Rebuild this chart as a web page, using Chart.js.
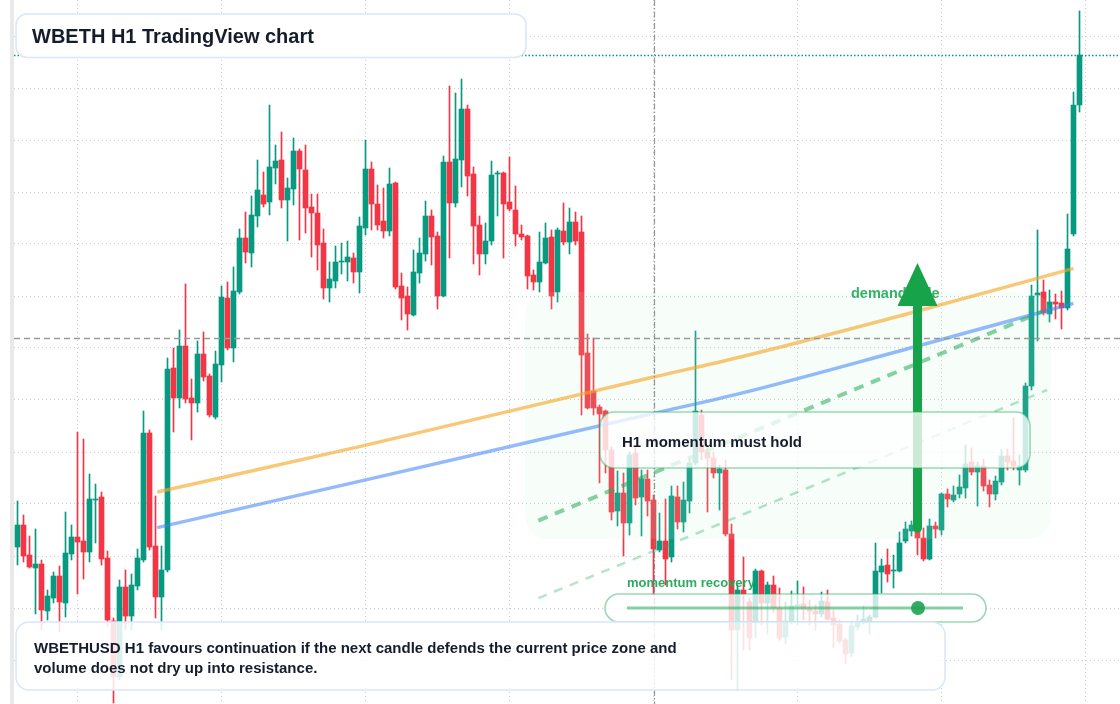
<!DOCTYPE html>
<html>
<head>
<meta charset="utf-8">
<title>WBETH H1 TradingView chart</title>
<script src="https://cdn.jsdelivr.net/npm/chart.js@4/dist/chart.umd.min.js"></script>
<style>
  html, body { margin: 0; padding: 0; background: #ffffff; }
  #wrap { width: 1120px; height: 704px; }
</style>
</head>
<body>
<div id="wrap"><canvas id="chart" width="1120" height="704"></canvas></div>
<script>
// WBETHUSD hourly candles, one value per hour
const open = [
  3126.5, 3137.5, 3122.5, 3116, 3118, 3094.5, 3101, 3112, 3098.5, 3123,
  3131.5, 3129.5, 3124, 3150, 3151.5, 3121, 3089.5, 3061.5, 3106.5, 3092,
  3107, 3120, 3183.5, 3127, 3101.5, 3115, 3216, 3201, 3227, 3201,
  3198.5, 3223, 3212, 3191.5, 3217.5, 3251, 3226, 3254, 3281, 3273.5,
  3292, 3302.5, 3299, 3316, 3320, 3300, 3305.5, 3324.5, 3315, 3296.5,
  3293.5, 3278.5, 3256, 3259.5, 3269, 3269, 3271, 3264, 3286, 3315.5,
  3298, 3289.5, 3284.5, 3308.5, 3257, 3252, 3242.5, 3263.5, 3273, 3292,
  3282, 3252, 3319, 3298.5, 3320, 3345.5, 3313, 3287.5, 3273, 3279.5,
  3313, 3313.5, 3299, 3295, 3283, 3282, 3262.5, 3259, 3268.5, 3281.5,
  3254, 3284.5, 3279, 3289, 3284, 3223.5, 3204.5, 3196.5, 3194.5, 3175,
  3144.5, 3153.5, 3138.5, 3173.5, 3151.5, 3160.5, 3150, 3125, 3129.5, 3121.5,
  3151.5, 3139, 3149.5, 3168.5, 3192.5, 3174, 3171, 3163.5, 3165, 3133,
  3085, 3105, 3099, 3089, 3114.5, 3098.5, 3107.5, 3096, 3081.5, 3089.5,
  3097, 3098, 3095.5, 3094.5, 3093, 3099, 3091, 3088, 3080, 3073.5,
  3086.5, 3089, 3089, 3091.5, 3114, 3117.5, 3114.5, 3114.5, 3129.5, 3134.5,
  3137.5, 3131, 3120.5, 3137, 3135, 3153, 3150, 3153, 3156, 3169,
  3164, 3167, 3157.5, 3153, 3159, 3172, 3169.5, 3165, 3165, 3207,
  3252.5, 3254, 3243, 3249, 3248.5, 3246, 3283, 3347.5
];
const high = [
  3149.5, 3142.5, 3132, 3135.5, 3120, 3105, 3114, 3117, 3144, 3137.5,
  3184, 3180.5, 3163, 3158, 3154, 3124.5, 3091, 3110, 3115, 3113,
  3125.5, 3194.5, 3185, 3152, 3127, 3221, 3226, 3235, 3258, 3210.5,
  3229.5, 3234, 3213, 3224.5, 3257, 3259, 3266.5, 3285.5, 3294, 3302,
  3320, 3314, 3347.5, 3327.5, 3334, 3311, 3331, 3325.5, 3327.5, 3303,
  3303, 3285.5, 3269, 3277, 3278.5, 3279.5, 3273.5, 3291.5, 3330, 3319,
  3307.5, 3306, 3316, 3309, 3263.5, 3256.5, 3275, 3281, 3299.5, 3295,
  3284, 3322, 3357, 3353.5, 3360.5, 3347.5, 3316.5, 3292, 3288.5, 3319.5,
  3314.5, 3314, 3321.5, 3307, 3287.5, 3282.5, 3265, 3284, 3288.5, 3285,
  3286, 3298.5, 3296, 3294, 3292, 3233, 3231, 3197.5, 3195, 3176.5,
  3164.5, 3163.5, 3174, 3177.5, 3165, 3165, 3152.5, 3143.5, 3150.5, 3157,
  3157, 3159, 3171, 3234.5, 3195, 3177.5, 3174, 3167.5, 3170, 3138,
  3107.5, 3121.5, 3101, 3115.5, 3115, 3109, 3112, 3106, 3099, 3104.5,
  3109.5, 3106.5, 3100, 3097.5, 3104, 3105, 3095, 3090, 3081, 3089.5,
  3092.5, 3097, 3092.5, 3128.5, 3120.5, 3125.5, 3122.5, 3134, 3139, 3139.5,
  3140, 3136, 3140.5, 3139, 3153.5, 3155.5, 3157, 3162.5, 3177.5, 3176,
  3169, 3170.5, 3160, 3162, 3175, 3175.5, 3191, 3172.5, 3208.5, 3257.5,
  3285, 3260, 3255, 3253, 3254.5, 3293, 3354, 3394.5
];
const low = [
  3117.5, 3119, 3116, 3093, 3085, 3090, 3098.5, 3084, 3091.5, 3120,
  3103, 3110.5, 3119, 3128.5, 3117.5, 3087, 3048.5, 3060, 3085, 3085,
  3105, 3119, 3125, 3091, 3085, 3114, 3184, 3196, 3198.5, 3180,
  3194, 3209.5, 3191.5, 3190.5, 3209, 3225, 3219, 3253, 3268.5, 3266.5,
  3286.5, 3296.5, 3292.5, 3308, 3296, 3279.5, 3297.5, 3280, 3283.5, 3271.5,
  3265, 3250.5, 3249, 3256, 3263, 3259.5, 3258.5, 3253.5, 3282.5, 3285,
  3285, 3281, 3282, 3255.5, 3240, 3235, 3242, 3258.5, 3269.5, 3267.5,
  3245.5, 3251.5, 3271, 3296.5, 3306.5, 3302, 3268, 3262.5, 3268, 3277.5,
  3292, 3271, 3294.5, 3277, 3280, 3255.5, 3255, 3254, 3268, 3245.5,
  3249, 3277.5, 3273, 3277.5, 3192.5, 3195.5, 3192.5, 3158.5, 3163.5, 3140,
  3137, 3122, 3132.5, 3147.5, 3132, 3142, 3103, 3124, 3107.5, 3119,
  3135.5, 3134, 3143.5, 3167.5, 3170, 3144, 3161, 3145, 3132, 3060,
  3055, 3075, 3075, 3081, 3087.5, 3083, 3094, 3079.5, 3078, 3088,
  3087.5, 3090, 3087.5, 3085, 3091.5, 3090, 3076, 3078.5, 3068, 3071.5,
  3085, 3088, 3083, 3091, 3103.5, 3109, 3106, 3114, 3128.5, 3132,
  3122.5, 3119.5, 3120, 3131, 3132.5, 3146.5, 3149, 3151, 3151, 3162.5,
  3147, 3154.5, 3146.5, 3150, 3157.5, 3165, 3165, 3157.5, 3164, 3205,
  3229.5, 3242.5, 3239, 3240.5, 3235.5, 3245, 3282, 3344
];
const close = [
  3137.5, 3122, 3116.5, 3118, 3095, 3102, 3112, 3099, 3123.5, 3131.5,
  3129, 3124, 3150.5, 3150.5, 3120.5, 3090, 3061.5, 3106.5, 3092, 3107.5,
  3121, 3183.5, 3126.5, 3101.5, 3115, 3215.5, 3201, 3227, 3200.5, 3198.5,
  3223, 3211.5, 3192.5, 3218, 3251.5, 3226, 3254.5, 3281, 3274, 3292.5,
  3305, 3298, 3316.5, 3319.5, 3300, 3306, 3324.5, 3315.5, 3296, 3293.5,
  3277.5, 3256, 3260.5, 3269, 3269.5, 3271.5, 3264, 3287, 3315.5, 3298,
  3287.5, 3284.5, 3308, 3256.5, 3251, 3243, 3264, 3273.5, 3292, 3281.5,
  3252, 3319, 3298.5, 3320.5, 3345.5, 3312, 3287, 3273, 3279.5, 3312.5,
  3313.5, 3298, 3295.5, 3283, 3281.5, 3262, 3259, 3269, 3281, 3252,
  3285, 3279, 3289, 3279.5, 3222.5, 3196, 3196, 3193, 3175, 3144,
  3153.5, 3138.5, 3172.5, 3151, 3160.5, 3149.5, 3125.5, 3129.5, 3120.5, 3152,
  3139, 3150, 3168.5, 3194.5, 3174, 3171, 3163.5, 3165.5, 3133, 3085,
  3105, 3103, 3081, 3114.5, 3098.5, 3107.5, 3096, 3081, 3089.5, 3097,
  3097.5, 3095.5, 3094.5, 3093, 3099.5, 3090.5, 3087.5, 3079.5, 3073, 3087,
  3089, 3090.5, 3091.5, 3114.5, 3117, 3113, 3115, 3128.5, 3135.5, 3137.5,
  3131, 3120.5, 3137, 3135.5, 3153, 3150.5, 3152.5, 3156.5, 3168, 3164,
  3167, 3157, 3153, 3159.5, 3172, 3169, 3167, 3167, 3207, 3252,
  3253.5, 3243.5, 3249, 3248, 3246, 3275.5, 3347.5, 3372.5
];

// moving averages (candle index, price)
const emaFastIdx = [23.3, 57, 106, 120.5, 147, 176];
const emaFast = [3154, 3176.7, 3211.5, 3221.5, 3242, 3265.8];
const emaSlowIdx = [23.3, 60.4, 106, 120.5, 147, 176];
const emaSlow = [3136.2, 3161.7, 3193.3, 3203.3, 3224.5, 3248.3];

// rising trend channel drawn across the demand zone
const channelIdx = [86.8, 170.8];
const channelUpper = [3139.7, 3244.2];
const channelLowerIdx = [86.8, 171.6];
const channelLower = [3100.9, 3205];

// grid ticks (one vertical line per day, one horizontal per 26)
const xGridTicks = [10, 34, 58, 82, 106, 130, 154, 178];
const yGridTicks = [3382, 3356, 3330, 3304, 3278, 3252, 3226, 3200, 3174, 3148, 3122, 3096, 3070];

// annotations
const crossIdx = 106;
const crossPrice = 3231;
const zoneFrom = 84.6, zoneTo = 172.3, zoneTop = 3254, zoneBottom = 3130.5;
const arrowIdx = 150, arrowFrom = 3134, arrowTo = 3268.5;

const UP = '#089981';
const DOWN = '#f23645';
const FONT = '"Liberation Sans", Arial, sans-serif';

const idx = open.map((_, i) => i);
const colors = idx.map(i => close[i] >= open[i] ? UP : DOWN);

function rr(ctx, x, y, w, h, r) {
  ctx.beginPath();
  ctx.moveTo(x + r, y);
  ctx.lineTo(x + w - r, y);
  ctx.arcTo(x + w, y, x + w, y + r, r);
  ctx.lineTo(x + w, y + h - r);
  ctx.arcTo(x + w, y + h, x + w - r, y + h, r);
  ctx.lineTo(x + r, y + h);
  ctx.arcTo(x, y + h, x, y + h - r, r);
  ctx.lineTo(x, y + r);
  ctx.arcTo(x, y, x + r, y, r);
  ctx.closePath();
}

function box(ctx, x, y, w, h, r, fill, stroke) {
  rr(ctx, x, y, w, h, r);
  ctx.fillStyle = fill;
  ctx.fill();
  ctx.lineWidth = 1.6;
  ctx.strokeStyle = stroke;
  ctx.stroke();
}

const overlay = {
  id: 'overlay',
  afterDatasetDraw(chart, args) {
    // soft demand zone over the candles, under the lines
    if (args.index !== 1) return;
    const { ctx, scales: { x, y } } = chart;
    const x0 = x.getPixelForValue(zoneFrom), x1 = x.getPixelForValue(zoneTo);
    const y0 = y.getPixelForValue(zoneTop), y1 = y.getPixelForValue(zoneBottom);
    ctx.save();
    rr(ctx, x0, y0, x1 - x0, y1 - y0, 24);
    ctx.fillStyle = 'rgba(190,240,208,0.13)';
    ctx.fill();
    ctx.restore();
  },
  afterDatasetsDraw(chart) {
    const { ctx, chartArea: a, scales: { x, y } } = chart;
    ctx.save();

    // crosshair
    const cy = Math.round(y.getPixelForValue(crossPrice)) + 0.5;
    ctx.strokeStyle = '#9a9a9a';
    ctx.lineWidth = 1.3;
    ctx.setLineDash([6, 4]);
    ctx.beginPath(); ctx.moveTo(a.left + 2, cy); ctx.lineTo(a.right, cy); ctx.stroke();
    const cx = Math.round(x.getPixelForValue(crossIdx)) + 0.5;
    ctx.strokeStyle = 'rgba(130,130,130,0.85)';
    ctx.lineWidth = 1.2;
    ctx.setLineDash([6, 2, 1.5, 2]);
    ctx.beginPath(); ctx.moveTo(cx, a.top); ctx.lineTo(cx, a.bottom); ctx.stroke();

    // last price line
    const ly = Math.round(y.getPixelForValue(close[close.length - 1])) + 0.5;
    ctx.strokeStyle = UP;
    ctx.lineWidth = 1.4;
    ctx.setLineDash([1.5, 2]);
    ctx.beginPath(); ctx.moveTo(a.left + 2, ly); ctx.lineTo(a.right, ly); ctx.stroke();
    ctx.setLineDash([]);

    // demand label, then the arrow on top of it
    ctx.font = 'bold 14.5px ' + FONT;
    ctx.fillStyle = 'rgba(34,168,88,0.9)';
    ctx.textBaseline = 'alphabetic';
    ctx.fillText('demand side', 851, 298);

    const ax = x.getPixelForValue(arrowIdx);
    const ay0 = y.getPixelForValue(arrowFrom);
    const ay1 = y.getPixelForValue(arrowTo);
    ctx.strokeStyle = '#17a34a';
    ctx.fillStyle = '#17a34a';
    ctx.lineWidth = 9;
    ctx.lineCap = 'round';
    ctx.beginPath(); ctx.moveTo(ax, ay0 - 4); ctx.lineTo(ax, ay1 + 40); ctx.stroke();
    ctx.lineCap = 'butt';
    ctx.beginPath();
    ctx.moveTo(ax, ay1);
    ctx.lineTo(ax + 20, ay1 + 43);
    ctx.lineTo(ax - 20, ay1 + 43);
    ctx.closePath();
    ctx.fill();

    // text boxes
    box(ctx, 16, 14, 510, 43.5, 11, 'rgba(255,255,255,0.97)', '#dbe6fa');
    box(ctx, 600, 412, 430, 56, 14, 'rgba(255,255,255,0.78)', 'rgba(34,168,88,0.45)');
    box(ctx, 605, 594, 381, 28, 14, 'rgba(255,255,255,0.78)', 'rgba(34,168,88,0.45)');
    box(ctx, 16, 622, 929, 68, 13, 'rgba(255,255,255,0.86)', '#dbe6fa');

    // progress line inside the pill
    ctx.strokeStyle = 'rgba(34,168,88,0.55)';
    ctx.lineWidth = 3;
    ctx.beginPath(); ctx.moveTo(627, 608); ctx.lineTo(963, 608); ctx.stroke();
    ctx.fillStyle = 'rgba(28,163,80,0.9)';
    ctx.beginPath(); ctx.arc(918, 608, 7, 0, Math.PI * 2); ctx.fill();

    // texts
    ctx.fillStyle = '#151c2c';
    ctx.font = 'bold 20px ' + FONT;
    ctx.fillText('WBETH H1 TradingView chart', 32, 43);
    ctx.font = 'bold 15px ' + FONT;
    ctx.fillText('H1 momentum must hold', 622, 447);
    ctx.fillText('WBETHUSD H1 favours continuation if the next candle defends the current price zone and', 34, 653);
    ctx.fillText('volume does not dry up into resistance.', 34, 673);
    ctx.font = 'bold 13px ' + FONT;
    ctx.fillStyle = 'rgba(34,168,88,0.95)';
    ctx.fillText('momentum recovery', 627, 587);

    ctx.restore();
  }
};

const gridScale = (ticks) => ({
  type: 'linear',
  offset: false,
  ticks: { display: false },
  grid: { color: 'rgba(0,0,0,0.2)', lineWidth: 1, drawTicks: false, offset: false },
  border: { display: false, dash: [1, 3] },
  afterBuildTicks: (s) => { s.ticks = ticks.map(v => ({ value: v })); }
});

const xScale = gridScale(xGridTicks);
xScale.min = -0.9167;
xScale.max = 183.75;
const yScale = gridScale(yGridTicks);
yScale.min = 3048;
yScale.max = 3400;
yScale.border = { display: true, color: '#e9e9e9', width: 4, dash: [1, 3] };

new Chart(document.getElementById('chart'), {
  type: 'bar',
  data: {
    datasets: [
      {
        label: 'wick',
        data: idx.map(i => ({ x: i, y: [low[i], high[i]] })),
        backgroundColor: colors,
        barThickness: 1,
        grouped: false,
        order: 10
      },
      {
        label: 'body',
        data: idx.map(i => ({ x: i, y: [open[i], close[i]] })),
        backgroundColor: colors,
        barThickness: 5,
        grouped: false,
        order: 9
      },
      {
        type: 'line',
        label: 'slow',
        data: emaSlowIdx.map((v, k) => ({ x: v, y: emaSlow[k] })),
        borderColor: 'rgba(59,130,246,0.55)',
        borderWidth: 3.5,
        pointRadius: 0,
        cubicInterpolationMode: 'monotone',
        order: 4
      },
      {
        type: 'line',
        label: 'fast',
        data: emaFastIdx.map((v, k) => ({ x: v, y: emaFast[k] })),
        borderColor: 'rgba(245,166,35,0.62)',
        borderWidth: 3.5,
        pointRadius: 0,
        cubicInterpolationMode: 'monotone',
        order: 3
      },
      {
        type: 'line',
        label: 'channel upper',
        data: channelIdx.map((v, k) => ({ x: v, y: channelUpper[k] })),
        borderColor: 'rgba(34,170,90,0.55)',
        borderWidth: 4,
        borderDash: [10, 8],
        pointRadius: 0,
        order: 2
      },
      {
        type: 'line',
        label: 'channel lower',
        data: channelLowerIdx.map((v, k) => ({ x: v, y: channelLower[k] })),
        borderColor: 'rgba(34,170,90,0.33)',
        borderWidth: 2.5,
        borderDash: [9, 8],
        pointRadius: 0,
        order: 1
      }
    ]
  },
  options: {
    responsive: false,
    animation: false,
    events: [],
    layout: { padding: { left: 12, right: 0, top: 0, bottom: 0 } },
    plugins: { legend: { display: false }, tooltip: { enabled: false } },
    scales: { x: xScale, y: yScale }
  },
  plugins: [overlay]
});
</script>
</body>
</html>
